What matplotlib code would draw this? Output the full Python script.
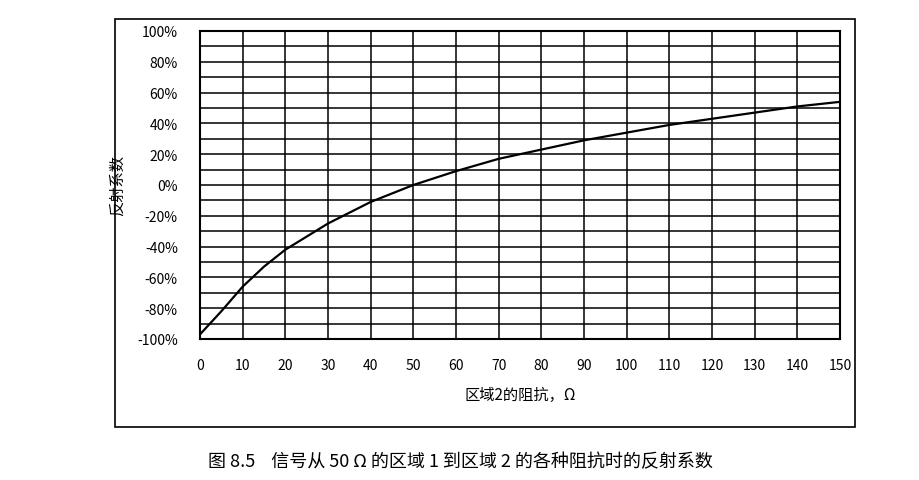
import matplotlib
matplotlib.use('Agg')
import matplotlib.pyplot as plt
from matplotlib.patches import Rectangle

plt.rcParams['font.family'] = ['Noto Sans CJK SC', 'DejaVu Sans']

# values
impedance = [0, 5, 10, 15, 20, 30, 40, 50, 60, 70, 80, 90, 100, 110, 120, 130, 140, 150]
reflection = [-97, -82, -66, -53, -42, -25, -11, 0, 9, 17, 23, 29, 34, 39, 43, 47, 51, 54]
x_ticks = list(range(0, 151, 10))
y_ticks = list(range(-100, 101, 20))

fig = plt.figure(figsize=(9.2, 4.81), dpi=100)
fig.patches.append(Rectangle((115 / 920, 1 - 428 / 481), 740 / 920, 408 / 481,
                             transform=fig.transFigure, fill=False,
                             edgecolor='black', linewidth=1.2))

ax = fig.add_axes([200 / 920, 1 - 340 / 481, 640 / 920, 308 / 481])
ax.plot(impedance, reflection, color='black', linewidth=1.6)
ax.set_xlim(0, 150)
ax.set_ylim(-100, 100)
ax.set_xticks(x_ticks)
ax.set_yticks(y_ticks)
ax.set_yticklabels([f'{v}%' for v in y_ticks])
ax.set_yticks(range(-100, 101, 10), minor=True)
ax.grid(which='both', color='black', linewidth=1.1)
ax.tick_params(which='both', length=0, labelsize=10)
ax.tick_params(axis='y', pad=16)
ax.tick_params(axis='x', pad=14)
for s in ax.spines.values():
    s.set_linewidth(1.5)
ax.set_xlabel('区域2的阻抗，Ω', fontsize=11, labelpad=10)
ax.set_ylabel('反射系数', fontsize=11, labelpad=8)

fig.text(0.5, 1 - 462 / 481, '图 8.5    信号从 50 Ω 的区域 1 到区域 2 的各种阻抗时的反射系数',
         ha='center', va='center', fontsize=13)

fig.savefig('out.png', dpi=100)
